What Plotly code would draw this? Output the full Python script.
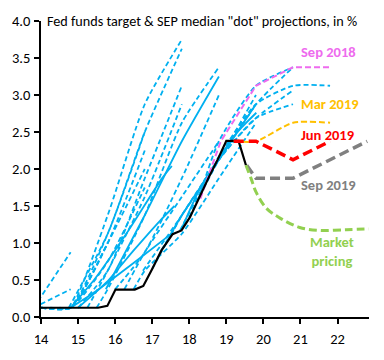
import plotly.graph_objects as go

# ---------------- data ----------------
# Actual fed funds target (midpoint of range)
ff_x = [14.0, 15.54, 15.79, 16.01, 16.53, 16.76, 17.0, 17.25, 17.55, 17.79, 18.02, 18.27, 18.52, 18.77, 19.0, 19.33, 19.53]
ff_y = [0.125, 0.125, 0.15, 0.37, 0.37, 0.42, 0.65, 0.9, 1.12, 1.17, 1.35, 1.62, 1.88, 2.13, 2.38, 2.38, 2.05]

# SEP median dot paths (blue, dashed)
sep12a_x = [13.8, 14.8];                      sep12a_y = [0.125, 0.875]
sep12b_x = [13.8, 14.8];                      sep12b_y = [0.125, 0.375]
sep1303_x = [14.0, 14.8, 15.8];               sep1303_y = [0.125, 0.125, 1.0]
sep1309_x = [14.0, 14.8, 15.8, 16.8];         sep1309_y = [0.125, 0.125, 1.0, 2.0]
sep1312_x = [14.0, 14.8, 15.8, 16.8];         sep1312_y = [0.125, 0.125, 0.75, 1.75]
sep1403_x = [14.0, 14.8, 15.8, 16.8];         sep1403_y = [0.125, 0.125, 1.0, 2.25]
sep1406_x = [14.25, 14.8, 15.8, 16.8];        sep1406_y = [0.125, 0.125, 1.125, 2.5]
sep1409_x = [14.5, 14.8, 15.8, 16.8, 17.8];   sep1409_y = [0.125, 0.125, 1.375, 2.875, 3.75]
sep1412_x = [14.75, 15.8, 16.8, 17.8];        sep1412_y = [0.125, 1.125, 2.5, 3.625]
sep1503_x = [15.0, 15.8, 16.8, 17.8];         sep1503_y = [0.125, 0.625, 1.875, 3.125]
sep1506_x = [15.25, 15.8, 16.8, 17.8];        sep1506_y = [0.125, 0.625, 1.625, 2.875]
sep1509_x = [15.5, 15.8, 16.8, 17.8, 18.8];   sep1509_y = [0.125, 0.375, 1.375, 2.625, 3.375]
sep1603_x = [16.0, 16.8, 17.8, 18.8];         sep1603_y = [0.375, 0.875, 1.875, 3.0]
sep1606_x = [16.25, 16.8, 17.8, 18.8];        sep1606_y = [0.375, 0.875, 1.625, 2.375]
sep1609_x = [16.5, 16.8, 17.8, 18.8, 19.8];   sep1609_y = [0.375, 0.625, 1.125, 1.875, 2.625]
sep1612_x = [16.75, 17.8, 18.8, 19.8];        sep1612_y = [0.625, 1.375, 2.125, 2.875]
sep1703_x = [17.0, 17.8, 18.8, 19.8];         sep1703_y = [0.65, 1.375, 2.125, 3.0]
sep1706_x = [17.25, 17.8, 18.8, 19.8];        sep1706_y = [0.9, 1.375, 2.125, 2.875]
sep1709_x = [17.5, 17.8, 18.8, 19.8, 20.8];   sep1709_y = [1.1, 1.375, 2.125, 2.6875, 2.875]
sep1712_x = [17.75, 18.8, 19.8, 20.8];        sep1712_y = [1.17, 2.125, 2.6875, 3.0625]
sep1803_x = [18.0, 18.8, 19.8, 20.8];         sep1803_y = [1.35, 2.125, 2.875, 3.375]
sep1806_x = [18.25, 18.8, 19.8, 20.8];        sep1806_y = [1.6, 2.375, 3.125, 3.375]
sep1812_x = [18.75, 19.8, 20.8, 21.8];        sep1812_y = [2.13, 2.875, 3.125, 3.125]

# solid blue paths
sol1512_x = [15.75, 16.8, 17.8, 18.8];        sol1512_y = [0.375, 1.375, 2.375, 3.25]
solA_x = [14.8, 15.46, 16.63, 17.53];         solA_y = [0.125, 0.34, 0.78, 1.13]
solB_x = [14.8, 15.46, 16.36, 17.26, 17.53];  solB_y = [0.125, 0.52, 1.17, 1.87, 2.04]
solC_x = [15.0, 15.77, 16.5, 17.21, 17.6];    solC_y = [0.125, 0.47, 0.9, 1.3, 1.5]
solD_x = [17.8, 18.29, 18.8, 19.3, 19.81];    solD_y = [1.2, 1.74, 2.15, 2.5, 2.76]

# highlighted SEPs
sep1809_x = [18.3, 18.85, 19.8, 20.8, 21.8];  sep1809_y = [1.6, 2.375, 3.125, 3.375, 3.375]
sep1903_x = [19.2, 19.8, 20.8, 21.8];         sep1903_y = [2.375, 2.375, 2.625, 2.625]
sep1906_x = [19.2, 19.8, 20.8, 21.8];         sep1906_y = [2.375, 2.375, 2.125, 2.375]
sep1909_x = [19.55, 19.8, 20.8, 21.8, 22.8];  sep1909_y = [2.05, 1.875, 1.875, 2.125, 2.375]

# market pricing
mkt_x = [19.53, 19.67, 19.8, 20.08, 20.44, 20.98, 21.52, 22.24, 22.85]
mkt_y = [2.05, 1.87, 1.69, 1.47, 1.34, 1.21, 1.17, 1.18, 1.19]

y_ticks = [0.0, 0.5, 1.0, 1.5, 2.0, 2.5, 3.0, 3.5, 4.0]
x_ticks = [14, 15, 16, 17, 18, 19, 20, 21, 22]
x_ticktext = ["14", "15", "16", "17", "18", "19", "20", "21", "22"]

title_text = 'Fed funds target & SEP median "dot" projections, in %'
label_text = ["Sep 2018", "Mar 2019", "Jun 2019", "Sep 2019", "Market<br>pricing"]
label_x = [21.77, 21.80, 21.74, 21.77, 21.85]
label_y = [3.58, 2.88, 2.46, 1.78, 0.885]
label_color = ["#EE6BEE", "#FFC000", "#FF0000", "#808080", "#92D050"]

# ---------------- figure ----------------
BLUE = "#00B0F0"
FONT = "Carlito, Liberation Sans, Arial, sans-serif"
fig = go.Figure()

dashed_blue = [
    (sep12a_x, sep12a_y), (sep12b_x, sep12b_y), (sep1303_x, sep1303_y), (sep1309_x, sep1309_y),
    (sep1312_x, sep1312_y), (sep1403_x, sep1403_y), (sep1406_x, sep1406_y), (sep1409_x, sep1409_y),
    (sep1412_x, sep1412_y), (sep1503_x, sep1503_y), (sep1506_x, sep1506_y), (sep1509_x, sep1509_y),
    (sep1603_x, sep1603_y), (sep1606_x, sep1606_y), (sep1609_x, sep1609_y), (sep1612_x, sep1612_y),
    (sep1703_x, sep1703_y), (sep1706_x, sep1706_y), (sep1709_x, sep1709_y), (sep1712_x, sep1712_y),
    (sep1803_x, sep1803_y), (sep1806_x, sep1806_y), (sep1812_x, sep1812_y),
]
for xs, ys in dashed_blue:
    fig.add_trace(go.Scatter(x=xs, y=ys, mode="lines",
                             line=dict(color=BLUE, width=1.8, dash="5px,3px", shape="spline", smoothing=0.6),
                             hoverinfo="skip", showlegend=False))

for xs, ys in [(sol1512_x, sol1512_y), (solA_x, solA_y), (solB_x, solB_y), (solC_x, solC_y), (solD_x, solD_y)]:
    fig.add_trace(go.Scatter(x=xs, y=ys, mode="lines",
                             line=dict(color=BLUE, width=1.8, shape="spline", smoothing=0.6),
                             hoverinfo="skip", showlegend=False))

fig.add_trace(go.Scatter(x=sep1809_x, y=sep1809_y, mode="lines",
                         line=dict(color="#EE6BEE", width=2, dash="6px,3px"), showlegend=False))
fig.add_trace(go.Scatter(x=ff_x, y=ff_y, mode="lines",
                         line=dict(color="black", width=2.2), showlegend=False))
fig.add_trace(go.Scatter(x=sep1903_x, y=sep1903_y, mode="lines",
                         line=dict(color="#FFC000", width=2, dash="6px,3px", shape="spline", smoothing=0.7),
                         showlegend=False))
fig.add_trace(go.Scatter(x=sep1906_x, y=sep1906_y, mode="lines",
                         line=dict(color="#FF0000", width=3.5, dash="10px,5px"), showlegend=False))
fig.add_trace(go.Scatter(x=sep1909_x, y=sep1909_y, mode="lines",
                         line=dict(color="#808080", width=3.5, dash="10px,5px"), showlegend=False))
fig.add_trace(go.Scatter(x=mkt_x, y=mkt_y, mode="lines",
                         line=dict(color="#92D050", width=3, dash="8px,4px", shape="spline", smoothing=1),
                         showlegend=False))

fig.add_annotation(text=title_text, xref="paper", yref="y", x=0.012, y=4.0,
                   xanchor="left", yanchor="middle", showarrow=False,
                   font=dict(family=FONT, size=14.2, color="black"))
for txt, lx, ly, col in zip(label_text, label_x, label_y, label_color):
    fig.add_annotation(text="<b>" + txt + "</b>", x=lx, y=ly, xref="x", yref="y",
                       xanchor="center", yanchor="middle", showarrow=False,
                       font=dict(family=FONT, size=14.5, color=col))

fig.update_layout(
    width=384, height=360,
    margin=dict(l=41, r=15, t=17, b=37),
    paper_bgcolor="white", plot_bgcolor="white",
    font=dict(family=FONT, size=14.5, color="black"),
    hovermode=False,
)
fig.update_xaxes(range=[14, 22.85], tickvals=x_ticks, ticktext=x_ticktext,
                 showgrid=False, zeroline=False, showline=True, linecolor="black", linewidth=1.5,
                 ticks="outside", ticklen=5, tickcolor="black", tickwidth=1.5,
                 ticklabelstandoff=3)
fig.update_yaxes(range=[0, 4], tickvals=y_ticks, tickformat=".1f",
                 showgrid=False, zeroline=False, showline=True, linecolor="black", linewidth=1.5,
                 ticks="outside", ticklen=5, tickcolor="black", tickwidth=1.5,
                 ticklabelstandoff=1)

# remove the page's default body margin so the 384x360 figure fills the window exactly
fig.write_html("out.html", config={"displayModeBar": False},
               post_script="document.body.style.margin='0';document.documentElement.style.overflow='hidden';")
